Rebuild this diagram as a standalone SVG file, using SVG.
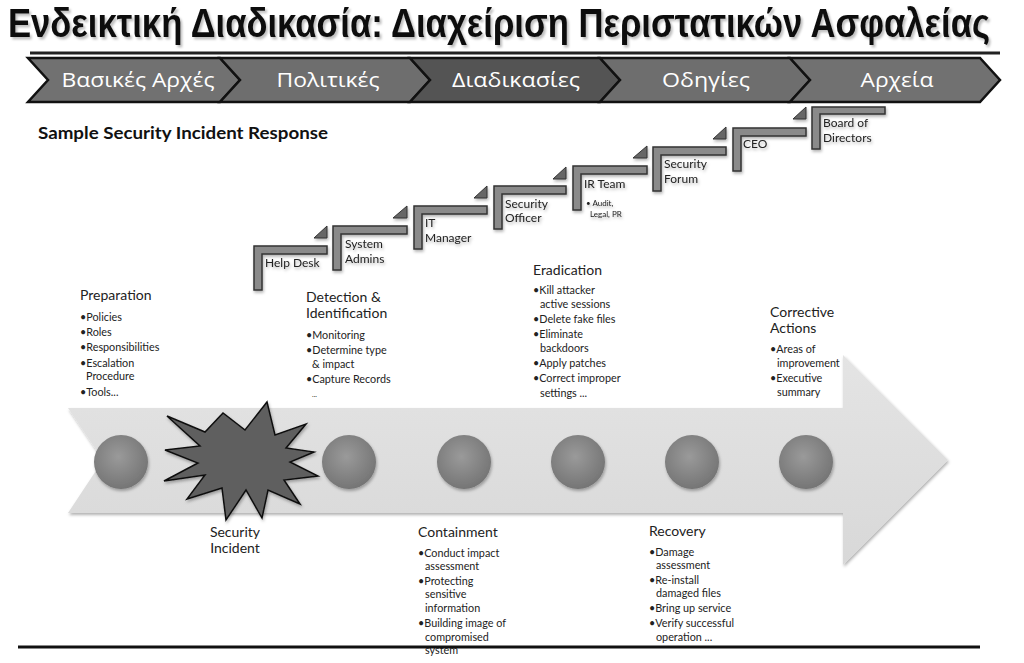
<svg xmlns="http://www.w3.org/2000/svg" width="1024" height="663" viewBox="0 0 1024 663">
<style>
.title{font-family:"Liberation Sans",Arial,sans-serif;font-weight:bold;font-size:34px;fill:#111}
.chev{stroke:#111;stroke-width:2.5;stroke-linejoin:miter}
.chevt{font-family:"Open Sans","Noto Sans",sans-serif;font-size:20px;fill:#fff;text-anchor:middle}
.sub{font-family:Lato,"Open Sans",sans-serif;font-weight:bold;font-size:17px;fill:#111}
.brk{fill:#8a8a8a;stroke:#333;stroke-width:1.5}
.tri{fill:#666;stroke:#333;stroke-width:1}
.st{font-family:Lato,"Open Sans",sans-serif;font-size:12px;fill:#222}
.sts{font-family:Lato,"Open Sans",sans-serif;font-size:8px;fill:#222}
.h{font-family:Lato,"Open Sans",sans-serif;font-size:14px;fill:#222}
.b{font-family:Lato,"Open Sans",sans-serif;font-size:10.8px;fill:#222}
.dot{fill:url(#dotg);filter:url(#sh)}
</style>
<defs>
<radialGradient id="dotg" cx="0.45" cy="0.4" r="0.65">
<stop offset="0" stop-color="#9a9a9a"/>
<stop offset="1" stop-color="#727272"/>
</radialGradient>
<linearGradient id="arrg" x1="0" y1="0" x2="0" y2="1">
<stop offset="0" stop-color="#e4e4e4"/>
<stop offset="1" stop-color="#d8d8d8"/>
</linearGradient>
<filter id="sh" x="-20%" y="-20%" width="140%" height="140%">
<feDropShadow dx="1" dy="2" stdDeviation="1.5" flood-color="#000" flood-opacity="0.3"/>
</filter>
<filter id="tsh" x="-5%" y="-20%" width="110%" height="140%">
<feDropShadow dx="2" dy="2" stdDeviation="1" flood-color="#000" flood-opacity="0.25"/>
</filter>
</defs>
<rect width="1024" height="663" fill="#fff"/>

<g id="title">
<text class="title" x="8" y="31" transform="scale(1,1.2)" textLength="982" lengthAdjust="spacingAndGlyphs" filter="url(#tsh)">Ενδεικτική Διαδικασία: Διαχείριση Περιστατικών Ασφαλείας</text>
<line x1="30" y1="53" x2="1000" y2="53" stroke="#222" stroke-width="3"/>
</g>

<g id="chevrons">
<g id="chev-1"><path class="chev" fill="#717171" d="M28,58 L220,58 L240,80 L220,102 L28,102 L48,80 Z"/><text class="chevt" x="138" y="87" textLength="153" lengthAdjust="spacingAndGlyphs">Βασικές Αρχές</text></g>
<g id="chev-2"><path class="chev" fill="#6e6e6e" d="M220,58 L410,58 L430,80 L410,102 L220,102 L240,80 Z"/><text class="chevt" x="328" y="87" textLength="103" lengthAdjust="spacingAndGlyphs">Πολιτικές</text></g>
<g id="chev-3"><path class="chev" fill="#545454" d="M410,58 L600,58 L620,80 L600,102 L410,102 L430,80 Z"/><text class="chevt" x="516" y="87" textLength="128" lengthAdjust="spacingAndGlyphs">Διαδικασίες</text></g>
<g id="chev-4"><path class="chev" fill="#6e6e6e" d="M600,58 L790,58 L810,80 L790,102 L600,102 L620,80 Z"/><text class="chevt" x="706" y="87" textLength="88" lengthAdjust="spacingAndGlyphs">Οδηγίες</text></g>
<g id="chev-5"><path class="chev" fill="#717171" d="M790,58 L980,58 L1000,80 L980,102 L790,102 L810,80 Z"/><text class="chevt" x="897" y="87" textLength="73" lengthAdjust="spacingAndGlyphs">Αρχεία</text></g>
</g>

<text class="sub" x="38" y="139" textLength="290" lengthAdjust="spacingAndGlyphs">Sample Security Incident Response</text>

<g id="staircase">
<g id="step-helpdesk" filter="url(#sh)">
<path class="brk" d="M254,290 L254,246 L327,246 L327,254 L262,254 L262,290 Z"/>
<path class="tri" d="M314,238 L327,238 L327,226 Z"/>
<text class="st" x="265" y="267">Help Desk</text>
</g>
<g id="step-sysadmins" filter="url(#sh)">
<path class="brk" d="M333,270 L333,226 L407,226 L407,234 L341,234 L341,270 Z"/>
<path class="tri" d="M393,218 L407,218 L407,206 Z"/>
<text class="st" x="345" y="248">System</text>
<text class="st" x="345" y="263">Admins</text>
</g>
<g id="step-itmanager" filter="url(#sh)">
<path class="brk" d="M414,249 L414,206 L487,206 L487,214 L422,214 L422,249 Z"/>
<path class="tri" d="M474,198 L487,198 L487,186 Z"/>
<text class="st" x="425" y="227">IT</text>
<text class="st" x="425" y="242">Manager</text>
</g>
<g id="step-secofficer" filter="url(#sh)">
<path class="brk" d="M494,229 L494,186 L566,186 L566,194 L502,194 L502,229 Z"/>
<path class="tri" d="M553,179 L566,179 L566,167 Z"/>
<text class="st" x="505" y="208">Security</text>
<text class="st" x="505" y="222">Officer</text>
</g>
<g id="step-irteam" filter="url(#sh)">
<path class="brk" d="M573,210 L573,166 L647,166 L647,174 L581,174 L581,210 Z"/>
<path class="tri" d="M633,158 L647,158 L647,146 Z"/>
<text class="st" x="584" y="188">IR Team</text>
<text class="sts" x="586" y="206">• Audit,</text>
<text class="sts" x="590" y="217">Legal, PR</text>
</g>
<g id="step-secforum" filter="url(#sh)">
<path class="brk" d="M653,191 L653,147 L726,147 L726,155 L661,155 L661,191 Z"/>
<path class="tri" d="M713,139 L726,139 L726,127 Z"/>
<text class="st" x="664" y="168">Security</text>
<text class="st" x="664" y="183">Forum</text>
</g>
<g id="step-ceo" filter="url(#sh)">
<path class="brk" d="M733,171 L733,128 L806,128 L806,136 L741,136 L741,171 Z"/>
<path class="tri" d="M793,119 L806,119 L806,107 Z"/>
<text class="st" x="743" y="148">CEO</text>
</g>
<g id="step-board" filter="url(#sh)">
<path class="brk" d="M812,149 L812,107 L885,107 L885,114 L820,114 L820,149 Z"/>
<text class="st" x="823" y="127">Board of</text>
<text class="st" x="823" y="142">Directors</text>
</g>
</g>

<g id="timeline-arrow">
<path d="M68,408 L843,408 L843,355 L948,460 L843,565 L843,513 L68,513 L103,460 Z" fill="url(#arrg)" filter="url(#sh)"/>
</g>

<g id="milestones">
<circle id="dot-preparation" class="dot" cx="121" cy="462" r="27"/>
<circle id="dot-detection" class="dot" cx="349" cy="462" r="27"/>
<circle id="dot-containment" class="dot" cx="464" cy="462" r="27"/>
<circle id="dot-eradication" class="dot" cx="578" cy="462" r="27"/>
<circle id="dot-recovery" class="dot" cx="692" cy="462" r="27"/>
<circle id="dot-corrective" class="dot" cx="806" cy="462" r="27"/>
</g>

<g id="security-incident">
<path d="M167,416 L205,432 L223,413 L245,430 L267,402 L275,435 L306,424 L286,448 L314,452 L290,462 L318,476 L284,480 L300,504 L268,490 L262,518 L246,490 L226,520 L222,488 L187,499 L205,475 L164,481 L198,463 L165,450 L200,446 Z" fill="#5f5f5f" stroke="#111" stroke-width="1.5" stroke-linejoin="miter" filter="url(#sh)"/>
<text class="h" x="235" y="537" text-anchor="middle">Security</text>
<text class="h" x="235" y="553" text-anchor="middle">Incident</text>
</g>

<g id="preparation">
<text class="h" x="80" y="300">Preparation</text>
<text class="b" x="80" y="321">•Policies</text>
<text class="b" x="80" y="336">•Roles</text>
<text class="b" x="80" y="351">•Responsibilities</text>
<text class="b" x="80" y="367">•Escalation</text>
<text class="b" x="86" y="380">Procedure</text>
<text class="b" x="80" y="396">•Tools...</text>
</g>

<g id="detection">
<text class="h" x="306" y="302">Detection &amp;</text>
<text class="h" x="306" y="318">Identification</text>
<text class="b" x="306" y="339">•Monitoring</text>
<text class="b" x="306" y="354">•Determine type</text>
<text class="b" x="312" y="368">&amp; impact</text>
<text class="b" x="306" y="383">•Capture Records</text>
<text class="b" x="312" y="397" style="font-size:7px">...</text>
</g>

<g id="eradication">
<text class="h" x="533" y="275">Eradication</text>
<text class="b" x="533" y="294">•Kill attacker</text>
<text class="b" x="540" y="308">active sessions</text>
<text class="b" x="533" y="323">•Delete fake files</text>
<text class="b" x="533" y="338">•Eliminate</text>
<text class="b" x="540" y="352">backdoors</text>
<text class="b" x="533" y="367">•Apply patches</text>
<text class="b" x="533" y="382">•Correct improper</text>
<text class="b" x="540" y="397">settings ...</text>
</g>

<g id="corrective">
<text class="h" x="770" y="317">Corrective</text>
<text class="h" x="770" y="333">Actions</text>
<text class="b" x="770" y="353">•Areas of</text>
<text class="b" x="777" y="367">improvement</text>
<text class="b" x="770" y="382">•Executive</text>
<text class="b" x="777" y="396">summary</text>
</g>

<g id="containment">
<text class="h" x="418" y="537">Containment</text>
<text class="b" x="418" y="557">•Conduct impact</text>
<text class="b" x="425" y="570">assessment</text>
<text class="b" x="418" y="585">•Protecting</text>
<text class="b" x="425" y="598">sensitive</text>
<text class="b" x="425" y="612">information</text>
<text class="b" x="418" y="627">•Building image of</text>
<text class="b" x="425" y="641">compromised</text>
<text class="b" x="425" y="654">system</text>
</g>

<g id="recovery">
<text class="h" x="649" y="536">Recovery</text>
<text class="b" x="649" y="556">•Damage</text>
<text class="b" x="656" y="569">assessment</text>
<text class="b" x="649" y="584">•Re-install</text>
<text class="b" x="656" y="597">damaged files</text>
<text class="b" x="649" y="612">•Bring up service</text>
<text class="b" x="649" y="627">•Verify successful</text>
<text class="b" x="656" y="641">operation ...</text>
</g>

<g id="connectors"></g>

<line x1="18" y1="647" x2="980" y2="647" stroke="#111" stroke-width="3"/>
</svg>
